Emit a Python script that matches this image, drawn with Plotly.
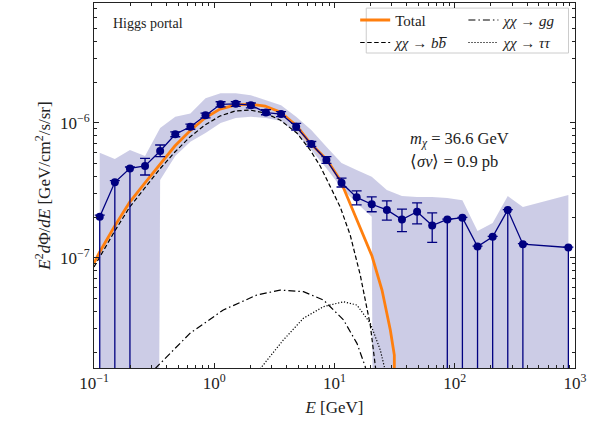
import plotly.graph_objects as go
import numpy as np

# ---------------- data ----------------
E_data = [0.1116, 0.149, 0.199, 0.2658, 0.3549, 0.4742, 0.6331, 0.8459, 1.129, 1.509,
          2.015, 2.692, 3.595, 4.800, 6.412, 8.565, 11.44, 15.28, 20.40, 27.25,
          36.40, 48.62, 64.94, 86.73, 115.8, 154.7, 206.7, 276.0, 368.6, 881.0]
flux = [2.01e-7, 3.62e-7, 4.59e-7, 4.78e-7, 6.17e-7, 8.21e-7, 9.34e-7, 1.135e-6, 1.37e-6, 1.38e-6,
        1.35e-6, 1.19e-6, 1.16e-6, 9.34e-7, 6.95e-7, 5.30e-7, 3.59e-7, 2.80e-7, 2.49e-7, 2.26e-7,
        1.92e-7, 2.19e-7, 1.73e-7, 1.92e-7, 1.98e-7, 1.21e-7, 1.43e-7, 2.26e-7, 1.26e-7, 1.19e-7]
err_hi = [2.07e-7, 3.73e-7, 4.70e-7, 5.44e-7, 6.84e-7, 8.57e-7, 9.75e-7, 1.18e-6, 1.43e-6, 1.43e-6,
          1.40e-6, 1.25e-6, 1.21e-6, 9.88e-7, 7.26e-7, 5.60e-7, 3.89e-7, 3.13e-7, 2.82e-7, 2.64e-7,
          2.29e-7, 2.55e-7, 2.15e-7, 1.93e-7, 1.99e-7, 1.22e-7, 1.44e-7, 2.27e-7, 1.27e-7, 1.20e-7]
# 0 = error bar reaches down to zero
err_lo = [0, 0, 0, 4.10e-7, 5.60e-7, 7.87e-7, 8.95e-7, 1.087e-6, 1.31e-6, 1.32e-6,
          1.29e-6, 1.146e-6, 1.11e-6, 8.83e-7, 6.67e-7, 5.00e-7, 3.34e-7, 2.46e-7, 2.19e-7, 1.90e-7,
          1.56e-7, 1.78e-7, 1.30e-7, 0, 0, 0, 0, 0, 0, 0]
band_hi = [6.0e-7, 5.38e-7, 6.28e-7, 5.67e-7, 9.14e-7, 1.107e-6, 1.17e-6, 1.52e-6, 1.65e-6, 1.65e-6,
           1.60e-6, 1.47e-6, 1.35e-6, 1.107e-6, 8.83e-7, 6.64e-7, 5.03e-7, 4.47e-7, 3.98e-7, 3.17e-7,
           2.86e-7, 2.82e-7, 2.82e-7, 2.77e-7, 2.67e-7, 1.58e-7, 1.81e-7, 2.86e-7, 2.38e-7, 2.91e-7]
band_lo = [0, 0, 0, 0, 3.77e-7, 5.67e-7, 7.23e-7, 8.39e-7, 9.95e-7, 1.083e-6,
           1.107e-6, 1.083e-6, 1.03e-6, 8.39e-7, 6.28e-7, 4.61e-7, 3.28e-7, 2.54e-7, 2.01e-7, 0,
           0, 0, 0, 0, 0, 0, 0, 0, 0, 0]

E_total = [0.1, 0.1115, 0.1488, 0.1983, 0.2645, 0.3527, 0.4704, 0.6272, 0.8366, 1.1156, 1.4876,
           1.984, 2.645, 3.527, 4.861, 6.273, 8.69, 11.16, 15.37, 20.50, 24.83, 29.12, 31.44, 31.62]
F_total = [9.14e-8, 1.102e-7, 1.717e-7, 2.586e-7, 3.575e-7, 4.944e-7, 6.72e-7, 8.68e-7, 1.083e-6,
           1.263e-6, 1.352e-6, 1.375e-6, 1.329e-6, 1.200e-6, 9.45e-7, 7.07e-7, 5.29e-7, 3.76e-7,
           1.902e-7, 1.029e-7, 5.76e-8, 2.91e-8, 1.90e-8, 1.0e-9]

E_bb = [0.1, 0.1115, 0.1488, 0.1983, 0.2645, 0.3527, 0.4704, 0.6272, 0.8366, 1.1156, 1.4876,
        1.984, 2.645, 3.527, 4.861, 6.273, 7.60, 9.21, 11.16, 13.51, 16.38, 19.84, 22.69]
F_bb = [8.53e-8, 1.012e-7, 1.577e-7, 2.374e-7, 3.284e-7, 4.54e-7, 6.07e-7, 7.83e-7, 9.62e-7,
        1.121e-6, 1.221e-6, 1.242e-6, 1.180e-6, 1.047e-6, 8.39e-7, 6.28e-7, 4.78e-7, 3.40e-7,
        2.375e-7, 1.472e-7, 7.44e-8, 3.17e-8, 1.2e-8]

E_gg = [0.3205, 0.6272, 1.189, 2.256, 3.527, 5.515, 8.10, 11.89, 15.37, 18.03, 18.5]
F_gg = [1.5e-8, 2.75e-8, 4.10e-8, 5.29e-8, 5.76e-8, 5.60e-8, 4.86e-8, 3.46e-8, 2.32e-8, 1.558e-8, 1.3e-8]

E_tt = [2.403, 3.758, 5.515, 8.10, 11.89, 15.37, 19.84, 24.04, 26.46]
F_tt = [1.5e-8, 2.46e-8, 3.56e-8, 4.34e-8, 4.72e-8, 4.46e-8, 3.27e-8, 2.07e-8, 1.45e-8]

x_ticks = [0.1, 1, 10, 100, 1000]
x_ticktext = ["10<sup>−1</sup>", "10<sup>0</sup>", "10<sup>1</sup>", "10<sup>2</sup>", "10<sup>3</sup>"]
y_ticks = [1e-7, 1e-6]
y_ticktext = ["10<sup>−7</sup>", "10<sup>−6</sup>"]

# ---------------- figure ----------------
FONT = "Liberation Serif"
NAVY = "#000080"
FLOOR = 1e-30

fig = go.Figure()

# uncertainty band
lo_plot = [v if v > 0 else FLOOR for v in band_lo]
fig.add_trace(go.Scatter(
    x=list(E_data) + list(E_data[::-1]) + [E_data[0]],
    y=list(band_hi) + list(lo_plot[::-1]) + [band_hi[0]],
    mode="lines", fill="toself", fillcolor="rgba(0,0,128,0.2)",
    line=dict(width=0), hoverinfo="skip", showlegend=False))

# model curves
fig.add_trace(go.Scatter(x=E_total, y=F_total, mode="lines", name="Total", legend="legend",
                         line=dict(color="#ff7f0e", width=2.8)))
fig.add_trace(go.Scatter(x=E_bb, y=F_bb, mode="lines", name="<i>χχ</i> → <i>b</i><i>b̅</i>",
                         legend="legend",
                         line=dict(color="black", width=1.2, dash="4.5px,2.5px")))
fig.add_trace(go.Scatter(x=E_gg, y=F_gg, mode="lines", name="<i>χχ</i> → <i>gg</i>",
                         legend="legend2",
                         line=dict(color="black", width=1.2, dash="7px,3px,1.5px,3px")))
fig.add_trace(go.Scatter(x=E_tt, y=F_tt, mode="lines", name="<i>χχ</i> → <i>ττ</i>",
                         legend="legend2",
                         line=dict(color="black", width=1.2, dash="1.2px,1.8px")))

# data points
plus = [h - f for h, f in zip(err_hi, flux)]
minus = [(f - l) if l > 0 else (f - 1e-12) for l, f in zip(err_lo, flux)]
fig.add_trace(go.Scatter(
    x=E_data, y=flux, mode="lines+markers", showlegend=False,
    line=dict(color=NAVY, width=1.3),
    marker=dict(color=NAVY, size=8),
    error_y=dict(type="data", symmetric=False, array=plus, arrayminus=minus,
                 color=NAVY, thickness=1.3, width=5)))

# minor tick positions
minor_x = [m * 10.0 ** d for d in range(-1, 3) for m in range(2, 10)]
minor_y = [m * 10.0 ** d for d in range(-9, -5) for m in range(2, 10)]

axis_common = dict(type="log", showline=True, linecolor="#222", linewidth=1,
                   mirror="allticks", ticks="inside", ticklen=5, tickwidth=1,
                   tickcolor="#222", showgrid=False, zeroline=False,
                   tickfont=dict(family=FONT, size=17, color="#222"))

fig.update_xaxes(**axis_common, range=[-1, 3], tickmode="array",
                 tickvals=x_ticks, ticktext=x_ticktext,
                 minor=dict(tickmode="array", tickvals=minor_x, ticks="inside",
                            ticklen=3, tickcolor="#222", showgrid=False),
                 title=dict(text="<i>E</i> [GeV]", font=dict(family=FONT, size=17, color="#222"),
                            standoff=8))
fig.update_yaxes(**axis_common, range=[-7.817, -5.113], tickmode="array",
                 tickvals=y_ticks, ticktext=y_ticktext,
                 minor=dict(tickmode="array", tickvals=minor_y, ticks="inside",
                            ticklen=3, tickcolor="#222", showgrid=False),
                 title=dict(text="<i>E</i><sup>2</sup><i>d</i>Φ/<i>dE</i> [GeV/cm<sup>2</sup>/s/sr]",
                            font=dict(family=FONT, size=17, color="#222"), standoff=4))

fig.add_annotation(xref="paper", yref="paper", x=0.035, y=0.945, xanchor="left", yanchor="middle",
                   text="Higgs portal", showarrow=False,
                   font=dict(family=FONT, size=14, color="#222"))
fig.add_annotation(xref="paper", yref="paper", x=0.652, y=0.627, xanchor="left", yanchor="middle",
                   text="<i>m</i><sub><i>χ</i></sub> = 36.6 GeV", showarrow=False,
                   font=dict(family=FONT, size=16.5, color="#222"))
fig.add_annotation(xref="paper", yref="paper", x=0.652, y=0.567, xanchor="left", yanchor="middle",
                   text="⟨<i>σv</i>⟩ = 0.9 pb", showarrow=False,
                   font=dict(family=FONT, size=16.5, color="#222"))

# legend frame
fig.add_shape(type="rect", xref="paper", yref="paper", x0=0.566, x1=0.9865, y0=0.863, y1=0.986,
              line=dict(color="#cccccc", width=1), fillcolor="rgba(255,255,255,0.8)", layer="below")

leg_common = dict(orientation="v", yanchor="top", xanchor="left", itemwidth=30,
                  bgcolor="rgba(0,0,0,0)", borderwidth=0, tracegroupgap=0,
                  font=dict(family=FONT, size=15, color="#222"))

fig.update_layout(
    width=605, height=432,
    margin=dict(l=94, r=30, t=3, b=64),
    paper_bgcolor="white", plot_bgcolor="white",
    showlegend=True,
    legend=dict(x=0.543, y=0.998, **leg_common),
    legend2=dict(x=0.768, y=0.998, **leg_common),
)

fig.write_html("out.html")
